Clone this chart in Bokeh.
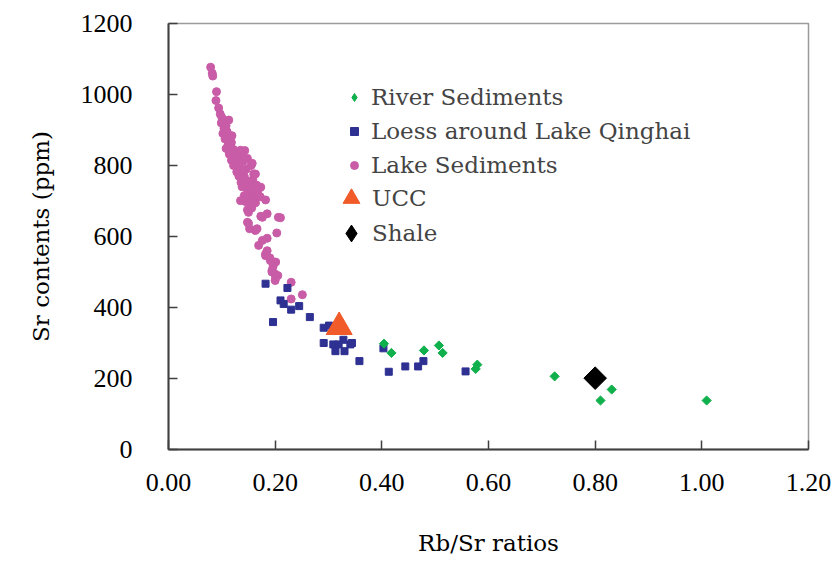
import math
from bokeh.plotting import figure
from bokeh.models import Legend, LegendItem, FixedTicker, NumeralTickFormatter, Range1d
from bokeh.embed import file_html
from bokeh.resources import INLINE

# ---- data ----
lake_x = [0.079, 0.082, 0.083, 0.090, 0.089, 0.094, 0.097, 0.100, 0.099, 0.113, 0.104, 0.108,
          0.102, 0.110, 0.106, 0.115, 0.119, 0.112, 0.118, 0.108, 0.116, 0.122, 0.120, 0.114,
          0.126, 0.135, 0.143, 0.138, 0.118, 0.126, 0.131, 0.140, 0.148, 0.122, 0.133, 0.128,
          0.138, 0.146, 0.155, 0.160, 0.132, 0.140, 0.136, 0.145, 0.150, 0.158, 0.165, 0.173,
          0.138, 0.147, 0.155, 0.162, 0.168, 0.142, 0.150, 0.158, 0.172, 0.135, 0.145, 0.154,
          0.163, 0.182, 0.148, 0.156, 0.150, 0.185, 0.173, 0.210, 0.148, 0.152, 0.163, 0.203,
          0.176, 0.185, 0.169, 0.182, 0.191, 0.201, 0.194, 0.201, 0.230, 0.251, 0.230, 0.182,
          0.198, 0.194, 0.200, 0.185, 0.190, 0.196, 0.199, 0.205, 0.157, 0.163, 0.166, 0.150,
          0.206, 0.176, 0.125, 0.130, 0.142, 0.152, 0.160]
lake_y = [1077, 1060, 1052, 1008, 983, 962, 945, 935, 920, 928, 905, 912,
          890, 895, 875, 880, 884, 860, 865, 848, 850, 845, 830, 832,
          836, 843, 842, 830, 815, 820, 808, 812, 820, 800, 795, 782,
          785, 790, 800, 776, 770, 765, 752, 758, 748, 760, 745, 739,
          740, 735, 728, 722, 730, 715, 712, 705, 712, 701, 698, 690,
          695, 703, 675, 680, 668, 664, 657, 653, 640, 622, 617, 610,
          589, 595, 575, 551, 532, 528, 504, 485, 471, 436, 424, 546,
          528, 500, 476, 560, 540, 515, 495, 490, 806, 776, 622, 637,
          654, 654, 825, 810, 770, 740, 700]

loess_x = [0.182, 0.223, 0.196, 0.210, 0.216, 0.230, 0.245, 0.265, 0.291, 0.301, 0.291, 0.309,
           0.319, 0.313, 0.328, 0.330, 0.341, 0.344, 0.358, 0.403, 0.413, 0.444, 0.468, 0.478,
           0.557]
loess_y = [467, 455, 359, 420, 410, 394, 404, 373, 343, 349, 300, 296,
           296, 277, 309, 277, 296, 300, 249, 285, 219, 234, 234, 249,
           220]

river_x = [0.404, 0.418, 0.479, 0.507, 0.514, 0.579, 0.576, 0.724, 0.831, 0.810, 1.009]
river_y = [298, 272, 279, 293, 272, 239, 227, 206, 169, 138, 138]

ucc_x = [0.32]
ucc_y = [345]
shale_x = [0.80]
shale_y = [201]

x_ticks = [0.0, 0.2, 0.4, 0.6, 0.8, 1.0, 1.2]
y_ticks = [0, 200, 400, 600, 800, 1000, 1200]

series_names = ["River Sediments", "Loess around Lake Qinghai", "Lake Sediments", "UCC", "Shale"]
x_title = "Rb/Sr ratios"
y_title = "Sr contents (ppm)"

FONT_NUM = "Liberation Serif"
FONT_TXT = "DejaVu Serif"

C_LAKE, C_LOESS, C_RIVER, C_UCC, C_SHALE = "#C95CA7", "#2E3192", "#10B04C", "#F15A29", "black"

p = figure(width=832, height=566, output_backend="svg", toolbar_location=None,
           x_range=Range1d(0, 1.2), y_range=Range1d(0, 1200),
           min_border_left=168, min_border_right=24, min_border_top=23, min_border_bottom=117)
p.grid.visible = False
p.outline_line_color = "#9a9a9a"
p.outline_line_width = 1.5
p.background_fill_color = "white"
p.border_fill_color = "white"

for ax in (p.xaxis[0], p.yaxis[0]):
    ax.axis_line_color = "#404040"
    ax.axis_line_width = 2
    ax.major_tick_line_color = "#404040"
    ax.major_tick_line_width = 1.5
    ax.major_tick_in = 9
    ax.major_tick_out = 0
    ax.minor_tick_line_color = None
    ax.major_label_text_font = FONT_NUM
    ax.major_label_text_font_size = "26px"
    ax.major_label_text_color = "black"
    ax.axis_label_text_font = FONT_TXT
    ax.axis_label_text_font_size = "23px"
    ax.axis_label_text_font_style = "normal"
    ax.axis_label_text_color = "black"

p.xaxis.ticker = FixedTicker(ticks=x_ticks)
p.yaxis.ticker = FixedTicker(ticks=y_ticks)
p.xaxis.formatter = NumeralTickFormatter(format="0.00")
p.xaxis.major_label_standoff = 24
p.yaxis.major_label_standoff = 36
p.xaxis.axis_label = x_title
p.yaxis.axis_label = y_title
p.xaxis.axis_label_standoff = 36
p.yaxis.axis_label_standoff = 24

r_lake = p.scatter(lake_x, lake_y, marker="circle", size=8, fill_color=C_LAKE, line_color=C_LAKE)
r_loess = p.scatter(loess_x, loess_y, marker="square", size=7, fill_color=C_LOESS, line_color=C_LOESS)
r_river = p.scatter(river_x, river_y, marker="square", size=6.5, angle=math.pi / 4,
                    fill_color=C_RIVER, line_color=C_RIVER)
r_ucc = p.scatter(ucc_x, ucc_y, marker="triangle", size=26, fill_color=C_UCC, line_color=C_UCC)
r_shale = p.scatter(shale_x, shale_y, marker="square", size=16, angle=math.pi / 4,
                    fill_color=C_SHALE, line_color=C_SHALE)

# legend-only key glyphs (no visible data) so the key shows diamond shapes
nan = float("nan")
k_river = p.scatter([nan], [nan], marker="diamond", fill_color=C_RIVER, line_color=C_RIVER)
k_shale = p.scatter([nan], [nan], marker="diamond", fill_color=C_SHALE, line_color=C_SHALE)

common = dict(border_line_color=None, background_fill_alpha=0, padding=0, margin=0, spacing=0,
              label_text_font=FONT_TXT, label_text_font_size="23px")

leg_a = Legend(items=[LegendItem(label=series_names[0], renderers=[k_river]),
                      LegendItem(label=series_names[1], renderers=[r_loess]),
                      LegendItem(label=series_names[2], renderers=[r_lake])],
               location=(176, 267), glyph_width=20, glyph_height=34, label_height=34,
               label_standoff=7, **common)
leg_b = Legend(items=[LegendItem(label=series_names[3], renderers=[r_ucc])],
               location=(162, 230), glyph_width=42, glyph_height=42, label_height=34,
               label_standoff=0, **common)
leg_c = Legend(items=[LegendItem(label=series_names[4], renderers=[k_shale])],
               location=(162, 195), glyph_width=42, glyph_height=42, label_height=34,
               label_standoff=0, **common)
for lg in (leg_a, leg_b, leg_c):
    p.add_layout(lg)

open("out.html", "w").write(file_html(p, INLINE))
